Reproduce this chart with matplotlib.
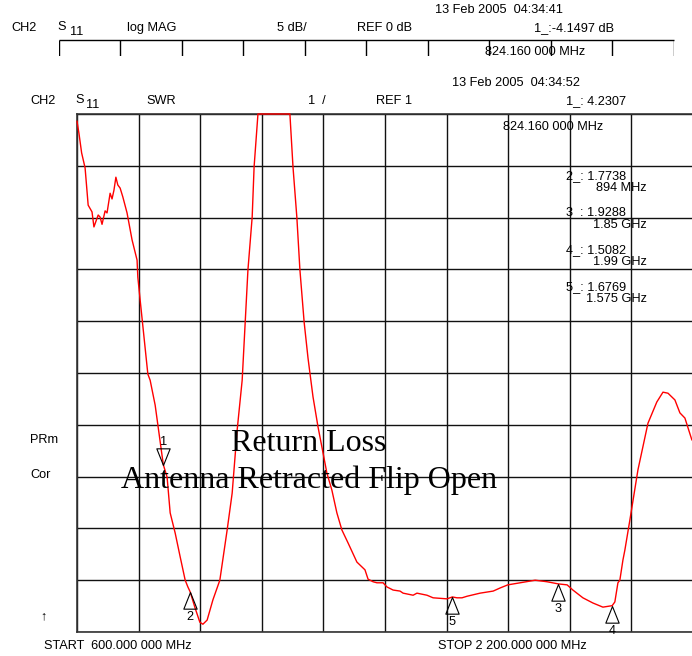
import numpy as np
import matplotlib.pyplot as plt
from matplotlib.path import Path

# SWR trace (MHz, SWR)
freq_mhz = [600, 605, 612, 621, 629, 639, 644, 655, 660, 665, 673, 678, 686, 691,
            696, 701, 706, 712, 719, 730, 743, 756, 758, 764, 784, 790, 803, 810,
            824.16, 834, 842, 855, 868, 881, 888, 894, 906, 919, 927, 938, 953, 971,
            990, 1003, 1016, 1029, 1044, 1055, 1060, 1070, 1153, 1161, 1171, 1179,
            1190, 1200, 1205, 1213, 1226, 1239, 1249, 1262, 1275, 1288, 1304, 1327,
            1348, 1356, 1369, 1379, 1395, 1405, 1421, 1439, 1447, 1473, 1483, 1509,
            1525, 1561, 1575, 1587, 1600, 1613, 1647, 1681, 1699, 1719, 1751, 1790,
            1821, 1850, 1873, 1888, 1914, 1940, 1966, 1990, 1997, 2005, 2010, 2018,
            2023, 2036, 2057, 2083, 2106, 2122, 2135, 2153, 2166, 2179, 2197]
swr = [10.86, 10.63, 10.25, 9.96, 9.24, 9.11, 8.82, 9.05, 9.01, 8.87, 9.13, 9.09, 9.47, 9.36,
       9.53, 9.78, 9.63, 9.57, 9.40, 9.09, 8.57, 8.18, 7.85, 7.41, 5.98, 5.86, 5.38, 5.00,
       4.2307, 3.99, 3.30, 2.91, 2.45, 2.00, 1.87, 1.7738, 1.48, 1.19, 1.15, 1.23, 1.62, 2.00,
       2.97, 3.68, 4.90, 5.86, 7.99, 9.01, 9.98, 11.0, 11.0, 9.98, 9.01, 7.99,
       6.98, 6.29, 6.00, 5.54, 4.96, 4.46, 4.07, 3.74, 3.30, 2.97, 2.72, 2.35,
       2.20, 2.02, 1.97, 1.95, 1.95, 1.87, 1.81, 1.79, 1.75, 1.71, 1.75, 1.71,
       1.66, 1.64, 1.6769, 1.66, 1.66, 1.69, 1.75, 1.79, 1.85, 1.91, 1.95, 2.00,
       1.97, 1.9288, 1.91, 1.81, 1.66, 1.56, 1.48, 1.5082, 1.58, 1.95, 2.00, 2.39,
       2.58, 3.16, 4.13, 5.03, 5.44, 5.63, 5.61, 5.48, 5.23, 5.13, 4.71]

marker_ids = ['1', '2', '3', '4', '5']
marker_freq = [824.16, 894, 1850, 1990, 1575]
marker_swr = [4.2307, 1.7738, 1.9288, 1.5082, 1.6769]
marker_lines = [('2_: 1.7738', '894 MHz'), ('3  : 1.9288', '1.85 GHz'),
                ('4_: 1.5082', '1.99 GHz'), ('5_: 1.6769', '1.575 GHz')]

W, H = 692, 656
def fx(x): return x / W
def fy(y): return 1 - y / H

plt.rcParams['font.family'] = ['Liberation Sans', 'DejaVu Sans']
fs = 9.2

fig = plt.figure(figsize=(6.92, 6.56), dpi=100, facecolor='w')

# ---- upper (hidden) log MAG screen, only its header shows
axu = fig.add_axes([fx(58.7), fy(56), (674 - 58.7) / W, 16 / H])
axu.set_xlim(0, 10); axu.set_ylim(0, 1); axu.axis('off')
axu.hlines(1, 0, 10, color='k', lw=1, clip_on=False)
axu.vlines(np.arange(11), 0, 1, color='k', lw=1)
axu.text(7.75, 0.22, '824.160 000 MHz', ha='center', va='center', fontsize=fs, clip_on=True)

fig.text(fx(435), fy(10), '13 Feb 2005  04:34:41', fontsize=fs, va='center')
fig.text(fx(11), fy(28), 'CH2', fontsize=fs, va='center')
fig.text(fx(57), fy(27), 'S', fontsize=fs, va='center')
fig.text(fx(70), fy(32), '11', fontsize=fs, va='center')
fig.text(fx(127), fy(28), 'log MAG', fontsize=fs, va='center')
fig.text(fx(277), fy(28), '5 dB/', fontsize=fs, va='center')
fig.text(fx(357), fy(28), 'REF 0 dB', fontsize=fs, va='center')
fig.text(fx(534), fy(28), '1_:-4.1497 dB', fontsize=fs, va='center')

# ---- SWR screen
fig.text(fx(452), fy(83), '13 Feb 2005  04:34:52', fontsize=fs, va='center')
fig.text(fx(30), fy(101), 'CH2', fontsize=fs, va='center')
fig.text(fx(75), fy(100), 'S', fontsize=fs, va='center')
fig.text(fx(86), fy(105), '11', fontsize=fs, va='center')
fig.text(fx(146), fy(101), 'SWR', fontsize=fs, va='center')
fig.text(fx(308), fy(101), '1  /', fontsize=fs, va='center')
fig.text(fx(376), fy(101), 'REF 1', fontsize=fs, va='center')
fig.text(fx(566), fy(101), '1_: 4.2307', fontsize=fs, va='center')
fig.text(fx(503), fy(127), '824.160 000 MHz', fontsize=fs, va='center')

ax = fig.add_axes([fx(77), fy(632), 616 / W, 518 / H])
ax.set_xlim(600, 2200)
ax.set_ylim(1, 11)
ax.set_xticks(np.arange(600, 2201, 160))
ax.set_yticks(np.arange(1, 12, 1))
ax.grid(True, color='#111111', lw=1)
ax.tick_params(length=0, labelbottom=False, labelleft=False)
for s in ax.spines.values():
    s.set_color('#333333'); s.set_linewidth(1.2)

ax.plot(freq_mhz, swr, color='red', lw=1, clip_on=False, zorder=3)

up_tri = Path([(0, 0), (-0.4, -1), (0.4, -1), (0, 0)],
              [Path.MOVETO, Path.LINETO, Path.LINETO, Path.CLOSEPOLY])
down_tri = Path([(0, 0), (-0.4, 1), (0.4, 1), (0, 0)],
                [Path.MOVETO, Path.LINETO, Path.LINETO, Path.CLOSEPOLY])
for mid, mf, ms in zip(marker_ids, marker_freq, marker_swr):
    tri = down_tri if mid == '1' else up_tri
    ax.plot([mf], [ms], marker=tri, ms=24, mfc='none', mec='k', mew=0.8,
            ls='none', clip_on=False, zorder=4)
    dy = 16.5 if mid == '1' else -18
    ax.annotate(mid, (mf, ms), xytext=(0, dy), textcoords='offset points',
                ha='center', va='center', fontsize=fs, annotation_clip=False)

for i, (val, fr) in enumerate(marker_lines):
    y0 = 176 + i * 37
    fig.text(fx(566), fy(y0), val, fontsize=fs, va='center')
    fig.text(fx(647), fy(y0 + 12), fr, fontsize=fs, va='center', ha='right')

fig.text(fx(30), fy(440), 'PRm', fontsize=fs, va='center')
fig.text(fx(30), fy(475), 'Cor', fontsize=fs, va='center')
fig.text(fx(44), fy(616), '\u2191', fontsize=fs, va='center', ha='center')
fig.text(fx(44), fy(646), 'START  600.000 000 MHz', fontsize=fs, va='center')
fig.text(fx(438), fy(646), 'STOP 2 200.000 000 MHz', fontsize=fs, va='center')

fig.text(fx(309), fy(451), 'Return Loss', family='Liberation Serif', fontsize=23,
         ha='center', va='baseline')
fig.text(fx(309), fy(488), 'Antenna Retracted Flip Open', family='Liberation Serif',
         fontsize=23, ha='center', va='baseline')

fig.savefig('out.png', dpi=100, facecolor='w')
